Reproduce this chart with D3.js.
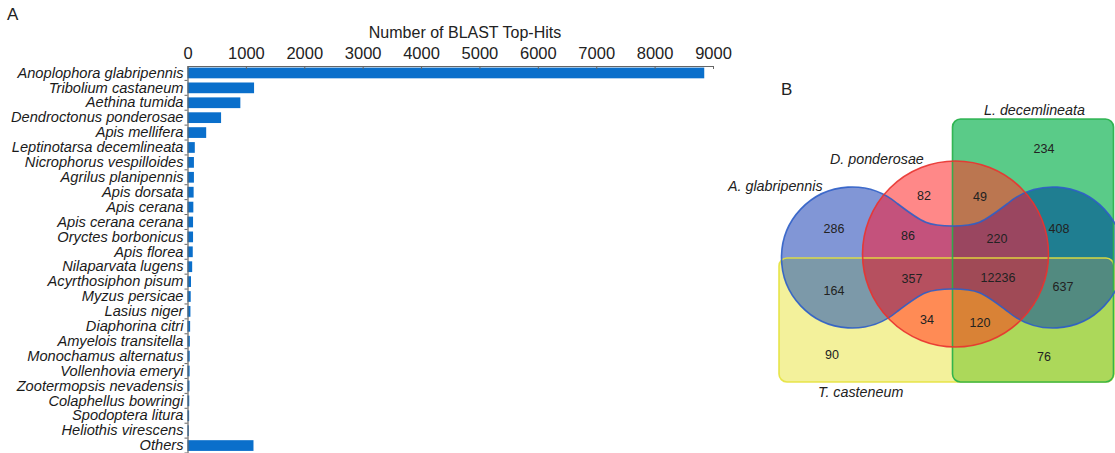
<!DOCTYPE html>
<html><head><meta charset="utf-8">
<script src="https://cdn.jsdelivr.net/npm/d3@7"></script>
<style>
html,body{margin:0;padding:0;background:#fff;}
svg{display:block;font-family:"Liberation Sans",Arial,sans-serif;}
</style></head>
<body>
<svg id="chart" width="1115" height="453"></svg>
<script>
// ---------- DATA ----------
const species = ["Anoplophora glabripennis","Tribolium castaneum","Aethina tumida","Dendroctonus ponderosae","Apis mellifera","Leptinotarsa decemlineata","Nicrophorus vespilloides","Agrilus planipennis","Apis dorsata","Apis cerana","Apis cerana cerana","Oryctes borbonicus","Apis florea","Nilaparvata lugens","Acyrthosiphon pisum","Myzus persicae","Lasius niger","Diaphorina citri","Amyelois transitella","Monochamus alternatus","Vollenhovia emeryi","Zootermopsis nevadensis","Colaphellus bowringi","Spodoptera litura","Heliothis virescens","Others"];
const hits = [8850,1140,905,575,320,125,110,110,105,100,95,95,90,80,60,55,50,45,40,38,36,34,30,28,22,1130];
const xTicks = [0,1000,2000,3000,4000,5000,6000,7000,8000,9000];
const axisTitle = "Number of BLAST Top-Hits";

const vennSets = ["A. glabripennis","D. ponderosae","L. decemlineata","T. casteneum"];
const vennRegions = ["B","R","G","BR","RG","BG","BRG","BY","BRY","BRGY","BGY","RY","RGY","Y","GY"];
const vennCounts  = [286,82,234,86,49,408,220,164,357,12236,637,34,120,90,76];

// ---------- LAYOUT / STYLE ----------
const svg = d3.select("#chart");
const barColor = "#0a6fcb";

svg.append("text").attr("x",7).attr("y",20).attr("font-size",17).attr("fill","#222").text("A");
svg.append("text").attr("x",781).attr("y",95).attr("font-size",17).attr("fill","#222").text("B");

const x = d3.scaleLinear().domain([0,9000]).range([187.5,713]);
const y = d3.scaleBand().domain(species).range([65.5,453]).paddingInner(0.28).paddingOuter(0.14);

const gA = svg.append("g");
gA.selectAll("rect.bar").data(species).join("rect")
  .attr("class","bar")
  .attr("x",x(0)).attr("y",d=>y(d))
  .attr("width",(d,i)=>x(hits[i])-x(0))
  .attr("height",y.bandwidth())
  .attr("fill",barColor);

const xAxis = d3.axisTop(x).tickValues(xTicks).tickFormat(d3.format("d"))
  .tickSizeInner(-3).tickSizeOuter(0).tickPadding(7);
const gx = gA.append("g").attr("transform","translate(0,66)").call(xAxis);
gx.select(".domain").attr("stroke","#666").attr("stroke-width",1.2);
gx.selectAll(".tick line").attr("stroke","#666");
gx.selectAll(".tick text").attr("font-size",16.5).attr("fill","#222").attr("font-family","Liberation Sans, Arial, sans-serif");

gA.append("text").attr("x",465).attr("y",38).attr("text-anchor","middle")
  .attr("font-size",16).attr("fill","#222").text(axisTitle);

const yAxis = d3.axisLeft(y).tickSize(0).tickPadding(4);
const gy = gA.append("g").attr("transform","translate(187.5,0)").call(yAxis);
gy.select(".domain").attr("stroke","#666").attr("stroke-width",1.2);
gy.selectAll(".tick text").attr("font-size",14.65).attr("font-style","italic").attr("fill","#1a1a1a")
  .attr("font-family","Liberation Sans, Arial, sans-serif");
// small boundary ticks
const step = y.step();
gy.selectAll("line.bt").data(species).join("line").attr("class","bt")
  .attr("x1",-3).attr("x2",0)
  .attr("y1",d=>y(d)-y.paddingInner()*step/2+step).attr("y2",d=>y(d)-y.paddingInner()*step/2+step)
  .attr("stroke","#666");

// ---------- VENN ----------
const shapes = {
  Y: {type:"rect", x:779, y:258, w:335, h:124, rx:8, stroke:"#e6e23c"},
  G: {type:"rect", x:952.5, y:119, w:161, h:263, rx:8, stroke:"#25b048"},
  B: {type:"path", stroke:"#2d5ec6"},
  R: {type:"circle", cx:955.5, cy:254, r:93, stroke:"#e8332f"}
};
// peanut path for blue set
const Lc=[852,257.5], Rc=[1053,257.5], rr=70.5, mid=952.7;
const a = 50*Math.PI/180;
const pTL=[Lc[0]+rr*Math.cos(a), Lc[1]-rr*Math.sin(a)];
const pBL=[Lc[0]+rr*Math.cos(a), Lc[1]+rr*Math.sin(a)];
const pTR=[Rc[0]-rr*Math.cos(a), Rc[1]-rr*Math.sin(a)];
const pBR=[Rc[0]-rr*Math.cos(a), Rc[1]+rr*Math.sin(a)];
const dipT=226, dipB=289;
const bluePath = `M${pTL} C${pTL[0]+26},${pTL[1]+20} ${mid-24},${dipT} ${mid},${dipT} C${mid+24},${dipT} ${pTR[0]-26},${pTR[1]+20} ${pTR} `+
  `A${rr},${rr} 0 1 1 ${pBR} C${pBR[0]-26},${pBR[1]-20} ${mid+24},${dipB} ${mid},${dipB} C${mid-24},${dipB} ${pBL[0]+26},${pBL[1]-20} ${pBL} `+
  `A${rr},${rr} 0 1 1 ${pTL} Z`;
shapes.B.d = bluePath;

function drawShape(sel, s){
  if(s.type==="rect") return sel.append("rect").attr("x",s.x).attr("y",s.y).attr("width",s.w).attr("height",s.h).attr("rx",s.rx);
  if(s.type==="circle") return sel.append("circle").attr("cx",s.cx).attr("cy",s.cy).attr("r",s.r);
  return sel.append("path").attr("d",s.d);
}
const defs = svg.append("defs");
Object.keys(shapes).forEach(k=>{
  drawShape(defs.append("clipPath").attr("id","clip-"+k), shapes[k]);
});
const regionColor = {
  Y:"#f3f19b", G:"#5acb88", B:"#8196d6", R:"#ff8888",
  GY:"#acd85a", BY:"#7c99a9", BG:"#1f7e91", RY:"#ff8b55", RG:"#bb7650", BR:"#c4527c",
  BGY:"#528a80", RGY:"#d98236", BRY:"#b6505f", BRG:"#9a4660", BRGY:"#a04a56"
};
const gV = svg.append("g");
const order = Object.keys(regionColor).sort((p,q)=>p.length-q.length);
order.forEach(key=>{
  let g = gV;
  key.split("").forEach(s=>{ g = g.append("g").attr("clip-path",`url(#clip-${s})`); });
  g.append("rect").attr("x",760).attr("y",100).attr("width",360).attr("height",300).attr("fill",regionColor[key]);
});
["Y","G","B","R"].forEach(k=>{
  drawShape(gV, shapes[k]).attr("fill","none").attr("stroke",shapes[k].stroke).attr("stroke-width",1.6).attr("stroke-opacity",0.9);
});

const regionPos = {B:[834,233],R:[924,200],G:[1044,153],BR:[908,240],RG:[980,201],BG:[1059,233],BRG:[997,243],
  BY:[834,295],BRY:[912,283],BRGY:[998,282],BGY:[1063,291],RY:[927,324],RGY:[980,327],Y:[832,359],GY:[1044,361]};
gV.selectAll("text.cnt").data(vennRegions).join("text").attr("class","cnt")
  .attr("x",d=>regionPos[d][0]).attr("y",d=>regionPos[d][1])
  .attr("text-anchor","middle").attr("font-size",12.5).attr("fill","#222")
  .text((d,i)=>vennCounts[i]);

const labelPos = [[728,191],[830,164],[984,115],[818,397]];
gV.selectAll("text.lab").data(vennSets).join("text").attr("class","lab")
  .attr("x",(d,i)=>labelPos[i][0]).attr("y",(d,i)=>labelPos[i][1])
  .attr("font-size",14.3).attr("font-style","italic").attr("fill","#222").text(d=>d);
</script>
</body></html>
